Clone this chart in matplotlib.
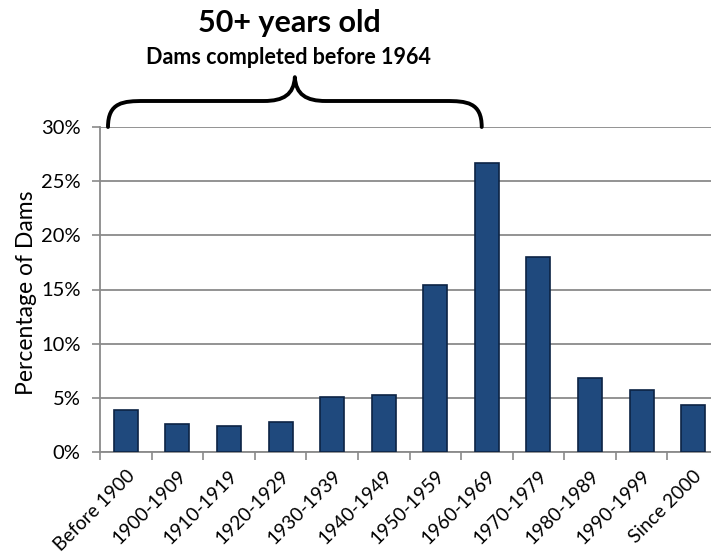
import matplotlib
matplotlib.use("Agg")
import matplotlib.pyplot as plt
import matplotlib.transforms as mtransforms
from matplotlib.path import Path
from matplotlib.patches import PathPatch
from matplotlib.ticker import FixedLocator, PercentFormatter

plt.rcParams["font.family"] = ["Lato", "DejaVu Sans"]

periods = ["Before 1900", "1900-1909", "1910-1919", "1920-1929", "1930-1939",
           "1940-1949", "1950-1959", "1960-1969", "1970-1979", "1980-1989",
           "1990-1999", "Since 2000"]
share_pct = [3.9, 2.6, 2.4, 2.8, 5.1, 5.3, 15.4, 26.7, 18.0, 6.8, 5.7, 4.3]
y_ticks = [0, 5, 10, 15, 20, 25, 30]

W, H = 711, 557
fig = plt.figure(figsize=(W / 100, H / 100), dpi=100)
ax = fig.add_axes([100 / W, 1 - 452 / H, 619 / W, 325 / H])

x = range(len(periods))
ax.bar(x, share_pct, width=0.465, color="#1f497d", edgecolor="#0c2344",
       linewidth=1.2, zorder=3)

ax.set_xlim(-0.5, len(periods) - 0.5)
ax.set_ylim(0, 30)
ax.set_yticks(y_ticks)
ax.yaxis.set_major_formatter(PercentFormatter(decimals=0))
ax.grid(axis="y", color="#8a8a8a", linewidth=1.3, zorder=0)

ax.set_xticks(list(x))
ax.set_xticklabels(periods, rotation=45, ha="right", va="top",
                   rotation_mode="anchor", fontsize=13.8)
shift = mtransforms.ScaledTranslation(5 / 100, 0, fig.dpi_scale_trans)
for lbl in ax.get_xticklabels():
    lbl.set_transform(lbl.get_transform() + shift)
ax.tick_params(axis="x", which="major", length=0, pad=11)
ax.xaxis.set_minor_locator(FixedLocator([i - 0.5 for i in range(len(periods) + 1)]))
ax.tick_params(axis="x", which="minor", length=6, color="#8a8a8a", width=1.2)
ax.tick_params(axis="y", length=6, color="#8a8a8a", width=1.2, labelsize=14.5,
               pad=8)

for side in ("top", "right"):
    ax.spines[side].set_visible(False)
for side in ("left", "bottom"):
    ax.spines[side].set_color("#8a8a8a")
    ax.spines[side].set_linewidth(1.3)

ax.set_ylabel("Percentage of Dams", fontsize=16.5)
ax.yaxis.set_label_coords(-0.102, 0.49)

# curly brace over the decades older than 50 years
bx0, bx1 = -0.345, 6.9
by0 = 30.0
by_flat = 32.4
by_tip = 34.6
bmid = (bx0 + bx1) / 2
verts = [
    (bx0, by0),
    (bx0, by_flat - 0.1), (bx0 + 0.3, by_flat), (bx0 + 0.7, by_flat),
    (bmid - 0.6, by_flat),
    (bmid - 0.22, by_flat), (bmid - 0.02, by_flat + 0.6), (bmid, by_tip),
    (bmid + 0.02, by_flat + 0.6), (bmid + 0.22, by_flat), (bmid + 0.6, by_flat),
    (bx1 - 0.7, by_flat),
    (bx1 - 0.3, by_flat), (bx1, by_flat - 0.1), (bx1, by0),
]
codes = [Path.MOVETO,
         Path.CURVE4, Path.CURVE4, Path.CURVE4,
         Path.LINETO,
         Path.CURVE4, Path.CURVE4, Path.CURVE4,
         Path.CURVE4, Path.CURVE4, Path.CURVE4,
         Path.LINETO,
         Path.CURVE4, Path.CURVE4, Path.CURVE4]
ax.add_patch(PathPatch(Path(verts, codes), facecolor="none", edgecolor="black",
                       linewidth=2.8, clip_on=False, zorder=5,
                       capstyle="round", joinstyle="round"))

fig.text(289 / W, 1 - 23 / H, "50+ years old", ha="center", va="center",
         fontsize=22, fontweight="bold")
fig.text(288 / W, 1 - 58 / H, "Dams completed before 1964", ha="center",
         va="center", fontsize=15.5, fontweight="bold")

fig.savefig("out.png", dpi=100, facecolor="white")
